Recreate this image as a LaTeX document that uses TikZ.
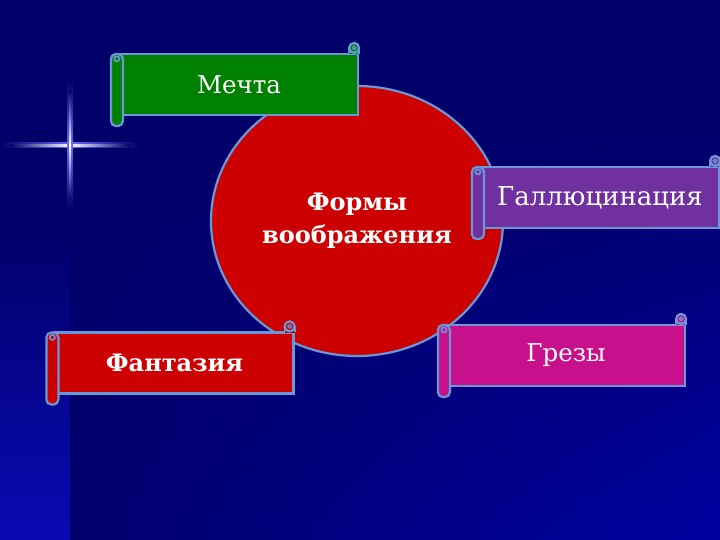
\documentclass[tikz,border=0pt]{standalone}
\usepackage{fontspec}
\setmainfont{DejaVu Serif}
\usetikzlibrary{calc,fadings,shapes.geometric}
\pgfdeclarelayer{bglayer}
\pgfdeclarelayer{nodelayer}
\pgfsetlayers{bglayer,main,nodelayer}
\definecolor{bgdark}{RGB}{0,0,104}
\definecolor{bglight}{RGB}{0,0,160}
\definecolor{bgstrip}{RGB}{10,10,180}
\definecolor{rim}{RGB}{104,152,216}
\definecolor{scrollred}{RGB}{204,0,0}
\definecolor{scrollgreen}{RGB}{0,128,0}
\definecolor{scrollviolet}{RGB}{112,48,160}
\definecolor{scrollpink}{RGB}{200,16,140}
\tikzstyle{scroll}=[draw=rim,line width=2.2pt,minimum width=238pt,minimum height=61pt,inner sep=0pt,text=white,font=\fontsize{24.5}{30}\selectfont]
\tikzstyle{rollbit}=[draw=rim,line width=2.2pt]
\tikzstyle{hub}=[ellipse,draw=rim,line width=2.2pt,fill=scrollred,minimum width=292pt,minimum height=270pt,text=white,align=center,font=\fontsize{24}{33}\selectfont\bfseries]

% the rolled ends of a scroll, drawn round its body node
\newcommand{\scrollrolls}[2]{%
  \draw[rollbit,fill=#2,rounded corners=5pt] ($(#1.north west)+(-8,1)$) rectangle ($(#1.south west)+(4,10)$);
  \draw[rollbit,line width=1.6pt] ($(#1.north west)+(-2,6)$) circle[radius=2.6pt];
  \fill[#2] ($(#1.north east)+(-10,-5)$) rectangle ($(#1.north east)+(0,1.5)$);
  \draw[rollbit] ($(#1.north east)+(0,-5)$) -- ($(#1.north east)+(0,1)$);
  \draw[rollbit] ($(#1.north east)+(-10,-5)$) -- ($(#1.north east)+(-10,0)$);
  \draw[rollbit,fill=#2] ($(#1.north east)+(-5,-5)$) circle[radius=5pt];
  \draw[rollbit,line width=1.2pt] ($(#1.north east)+(-5,-5)$) circle[radius=1.8pt];
}

\begin{document}
\begin{tikzpicture}[x=1pt,y=-1pt]
	\useasboundingbox (0,0) rectangle (720,540);
	\begin{pgfonlayer}{bglayer}
		\fill[bgdark] (0,0) rectangle (720,540);
		\shade[left color=bgdark,right color=bglight,path fading=north] (0,100) rectangle (720,540);
		\shade[top color=bgdark,bottom color=bgstrip] (0,220) rectangle (70,540);
		% sparkle
		\shade[left color=bgdark,right color=bgdark,middle color=blue!60!white] (0,142.5) rectangle (140,148);
		\shade[left color=bgdark,right color=bgdark,middle color=white] (10,144.3) rectangle (130,146.2);
		\shade[top color=bgdark,bottom color=bgdark,middle color=blue!60!white] (67.5,80) rectangle (73,210);
		\shade[top color=bgdark,bottom color=bgdark,middle color=white] (69.2,90) rectangle (71.1,200);
	\end{pgfonlayer}

	\node[style=hub] (0) at (357,221) {Формы\\воображения};

	\node[style=scroll,fill=scrollgreen] (1) at (239,84.5) {Мечта};
	\scrollrolls{1}{scrollgreen}
	\node[style=scroll,fill=scrollviolet,font=\fontsize{26}{30}\selectfont] (2) at (600,197.5) {Галлюцинация};
	\scrollrolls{2}{scrollviolet}
	\node[style=scroll,fill=scrollred,font=\fontsize{24}{30}\selectfont\bfseries] (3) at (174.5,363) {Фантазия};
	\scrollrolls{3}{scrollred}
	\node[style=scroll,fill=scrollpink] (4) at (566,355.5) {Грезы};
	\scrollrolls{4}{scrollpink}
\end{tikzpicture}
\end{document}
